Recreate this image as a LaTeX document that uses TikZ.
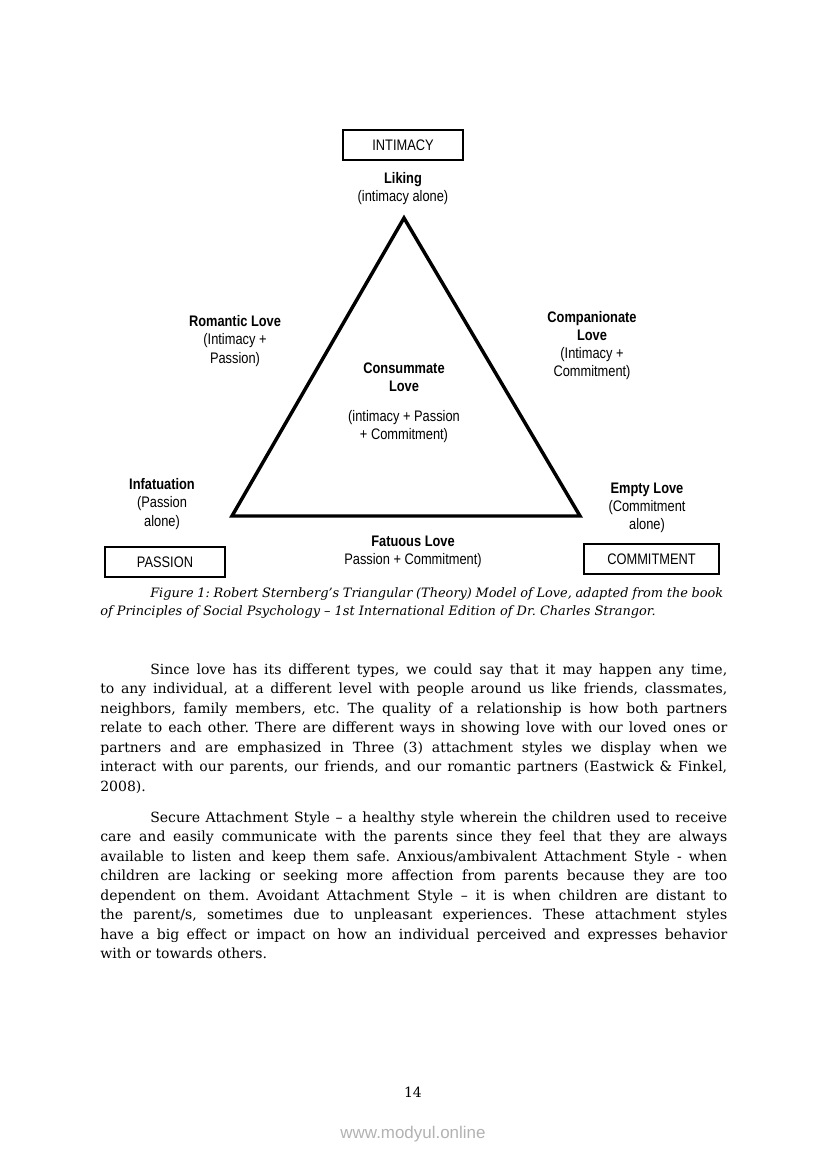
\documentclass[tikz,border=0pt]{standalone}
\usepackage{fontspec}
\setmainfont{DejaVu Serif}
\newfontfamily\diagfont[FakeStretch=0.84]{Liberation Sans}
\newfontfamily\wmfont{Liberation Sans}
\tikzset{
  px/.style={x=0.72pt,y=-0.72pt},
  lbl/.style={font=\diagfont\fontsize{11}{13}\selectfont,align=center,inner sep=0pt},
  corner/.style={draw,line width=0.8pt,minimum height=30*0.72pt,inner sep=0pt,font=\diagfont\fontsize{11}{12}\selectfont},
  tri/.style={line width=2.5pt,line join=miter},
  body/.style={anchor=base west,inner sep=0pt,font=\frenchspacing\fontsize{10.1}{14}\selectfont},
  capt/.style={anchor=base west,inner sep=0pt,font=\frenchspacing\itshape\fontsize{9.3}{13}\selectfont},
}
\newcommand{\fl}[1]{\makebox[451.4pt][s]{#1}}
\newcommand{\il}[1]{\makebox[415.4pt][s]{#1}}
\begin{document}
\begin{tikzpicture}[px]
\useasboundingbox[fill=white] (0,0) rectangle (826,1169);
% boxes
\node[corner,minimum width=120*0.72pt] (intimacy) at (403,145) {INTIMACY};
\node[corner,minimum width=120*0.72pt] (passion) at (165,562) {PASSION};
\node[corner,minimum width=135*0.72pt] (commitment) at (651.5,559) {COMMITMENT};
% triangle
\coordinate (top) at (404,218);
\coordinate (bl) at (232,516);
\coordinate (br) at (580,516);
\draw[tri] (top) -- (bl) -- (br) -- cycle;
% labels
\node[lbl] (liking) at (403,189) {\textbf{Liking}\\(intimacy alone)};
\node[lbl] (romantic) at (235,341) {\textbf{Romantic Love}\\(Intimacy +\\Passion)};
\node[lbl] (companionate) at (592,345.5) {\textbf{Companionate}\\\textbf{Love}\\(Intimacy +\\Commitment)};
\node[lbl] (consummate) at (404,377) {\textbf{Consummate}\\\textbf{Love}};
\node[lbl] (consumdesc) at (404,426.5) {(intimacy + Passion\\+ Commitment)};
\node[lbl] (infatuation) at (162,504) {\textbf{Infatuation}\\(Passion\\alone)};
\node[lbl] (empty) at (647,507.5) {\textbf{Empty Love}\\(Commitment\\alone)};
\node[lbl] (fatuous) at (413,552) {\textbf{Fatuous Love}\\Passion + Commitment)};
% caption
\node[capt] (cap1) at (150,597) {\makebox[412.6pt][s]{Figure 1: Robert Sternberg’s Triangular (Theory) Model of Love, adapted from the book}};
\node[capt] (cap2) at (100,615) {of Principles of Social Psychology – 1st International Edition of Dr. Charles Strangor.};
% paragraph 1
\node[body] (p1a) at (150,674) {\il{Since love has its different types, we could say that it may happen any time,}};
\node[body] (p1b) at (100,693.5) {\fl{to any individual, at a different level with people around us like friends, classmates,}};
\node[body] (p1c) at (100,713) {\fl{neighbors, family members, etc. The quality of a relationship is how both partners}};
\node[body] (p1d) at (100,732.5) {\fl{relate to each other. There are different ways in showing love with our loved ones or}};
\node[body] (p1e) at (100,752) {\fl{partners and are emphasized in Three (3) attachment styles we display when we}};
\node[body] (p1f) at (100,771.5) {\fl{interact with our parents, our friends, and our romantic partners (Eastwick \& Finkel,}};
\node[body] (p1g) at (100,791) {2008).};
% paragraph 2
\node[body] (p2a) at (150,822) {\il{Secure Attachment Style – a healthy style wherein the children used to receive}};
\node[body] (p2b) at (100,841.5) {\fl{care and easily communicate with the parents since they feel that they are always}};
\node[body] (p2c) at (100,861) {\fl{available to listen and keep them safe. Anxious/ambivalent Attachment Style - when}};
\node[body] (p2d) at (100,880.5) {\fl{children are lacking or seeking more affection from parents because they are too}};
\node[body] (p2e) at (100,900) {\fl{dependent on them. Avoidant Attachment Style – it is when children are distant to}};
\node[body] (p2f) at (100,919.5) {\fl{the parent/s, sometimes due to unpleasant experiences. These attachment styles}};
\node[body] (p2g) at (100,939) {\fl{have a big effect or impact on how an individual perceived and expresses behavior}};
\node[body] (p2h) at (100,958.5) {with or towards others.};
% page number and watermark
\node[inner sep=0pt,font=\fontsize{10.1}{12}\selectfont] (pagenum) at (413,1092) {14};
\node[inner sep=0pt,font=\wmfont\fontsize{12.2}{14}\selectfont,text=black!30] (wm) at (413,1134) {www.modyul.online};
\end{tikzpicture}
\end{document}
